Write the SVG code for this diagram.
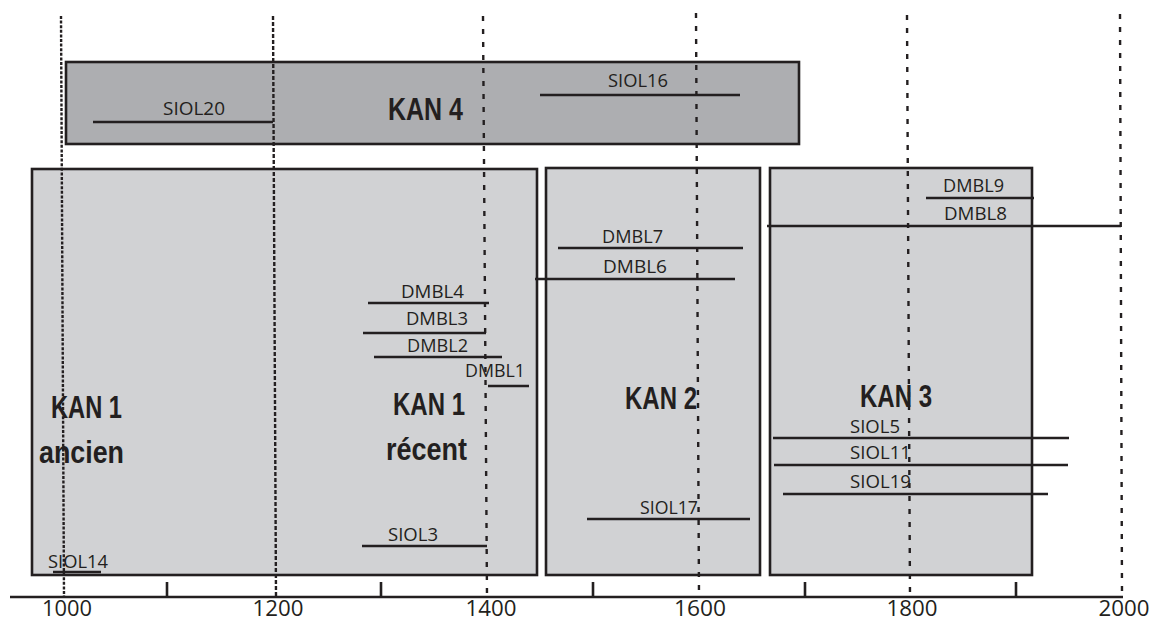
<svg xmlns="http://www.w3.org/2000/svg" width="1153" height="622" viewBox="0 0 1153 622">
<style>
.box{stroke:#231f20;stroke-width:2.6}
.k4{fill:#adaeb1}
.k{fill:#d1d2d4}
.seg{stroke:#231f20;stroke-width:2.6;fill:none}
.lbl{font-family:"Open Sans","Liberation Sans",sans-serif;font-size:18.5px;fill:#231f20}
.big{font-family:"Liberation Sans",Arial,sans-serif;font-weight:bold;font-size:32px;fill:#231f20}
.ax{font-family:"Open Sans","Liberation Sans",sans-serif;font-size:21px;fill:#231f20;text-anchor:middle}
.grid{stroke:#231f20;stroke-width:2.4;fill:none}
.fine{stroke-dasharray:3 1.6}
.med{stroke-dasharray:4 2}
.wide{stroke-dasharray:5 8}
</style>
<rect width="1153" height="622" fill="#ffffff"/>

<g id="KAN4">
<rect class="box k4" x="66" y="62" width="733" height="82"/>
<text class="big" x="388" y="120" textLength="75" lengthAdjust="spacingAndGlyphs">KAN 4</text>
</g>
<g id="KAN1">
<rect class="box k" x="32" y="169" width="505" height="406"/>
<text class="big" x="51" y="418" textLength="71" lengthAdjust="spacingAndGlyphs">KAN 1</text>
<text class="big" x="39" y="463" textLength="85" lengthAdjust="spacingAndGlyphs">ancien</text>
<text class="big" x="393" y="415" textLength="72" lengthAdjust="spacingAndGlyphs">KAN 1</text>
<text class="big" x="386" y="460" textLength="81" lengthAdjust="spacingAndGlyphs">récent</text>
</g>
<g id="KAN2">
<rect class="box k" x="546" y="168" width="214" height="407"/>
<text class="big" x="625" y="409" textLength="72" lengthAdjust="spacingAndGlyphs">KAN 2</text>
</g>
<g id="KAN3">
<rect class="box k" x="770" y="168" width="262" height="407"/>
<text class="big" x="860" y="407" textLength="72" lengthAdjust="spacingAndGlyphs">KAN 3</text>
</g>

<g id="samples">
<g id="SIOL20"><line class="seg" x1="93" y1="122" x2="273" y2="122"/><text class="lbl" x="163" y="115" textLength="62" lengthAdjust="spacingAndGlyphs">SIOL20</text></g>
<g id="SIOL16"><line class="seg" x1="540" y1="95" x2="740" y2="95"/><text class="lbl" x="608" y="87" textLength="60" lengthAdjust="spacingAndGlyphs">SIOL16</text></g>
<g id="DMBL9"><line class="seg" x1="926" y1="198" x2="1034" y2="198"/><text class="lbl" x="943" y="192" textLength="61" lengthAdjust="spacingAndGlyphs">DMBL9</text></g>
<g id="DMBL8"><line class="seg" x1="767" y1="226" x2="1121" y2="226"/><text class="lbl" x="944" y="220" textLength="63" lengthAdjust="spacingAndGlyphs">DMBL8</text></g>
<g id="DMBL7"><line class="seg" x1="558" y1="248" x2="743" y2="248"/><text class="lbl" x="602" y="243" textLength="61" lengthAdjust="spacingAndGlyphs">DMBL7</text></g>
<g id="DMBL6"><line class="seg" x1="535" y1="279" x2="735" y2="279"/><text class="lbl" x="603" y="273" textLength="64" lengthAdjust="spacingAndGlyphs">DMBL6</text></g>
<g id="DMBL4"><line class="seg" x1="368" y1="303" x2="489" y2="303"/><text class="lbl" x="401" y="298" textLength="63" lengthAdjust="spacingAndGlyphs">DMBL4</text></g>
<g id="DMBL3"><line class="seg" x1="363" y1="333" x2="486" y2="333"/><text class="lbl" x="406" y="325" textLength="62" lengthAdjust="spacingAndGlyphs">DMBL3</text></g>
<g id="DMBL2"><line class="seg" x1="374" y1="357" x2="502" y2="357"/><text class="lbl" x="407" y="352" textLength="61" lengthAdjust="spacingAndGlyphs">DMBL2</text></g>
<g id="DMBL1"><line class="seg" x1="488" y1="386" x2="529" y2="386"/><text class="lbl" x="465" y="377" textLength="60" lengthAdjust="spacingAndGlyphs">DMBL1</text></g>
<g id="SIOL5"><line class="seg" x1="773" y1="438" x2="1069" y2="438"/><text class="lbl" x="850" y="433" textLength="50" lengthAdjust="spacingAndGlyphs">SIOL5</text></g>
<g id="SIOL11"><line class="seg" x1="774" y1="465" x2="1068" y2="465"/><text class="lbl" x="850" y="459" textLength="61" lengthAdjust="spacingAndGlyphs">SIOL11</text></g>
<g id="SIOL19"><line class="seg" x1="783" y1="494" x2="1048" y2="494"/><text class="lbl" x="850" y="488" textLength="61" lengthAdjust="spacingAndGlyphs">SIOL19</text></g>
<g id="SIOL17"><line class="seg" x1="587" y1="519" x2="750" y2="519"/><text class="lbl" x="640" y="514" textLength="58" lengthAdjust="spacingAndGlyphs">SIOL17</text></g>
<g id="SIOL3"><line class="seg" x1="362" y1="546" x2="487" y2="546"/><text class="lbl" x="388" y="541" textLength="50" lengthAdjust="spacingAndGlyphs">SIOL3</text></g>
<g id="SIOL14"><line class="seg" x1="53" y1="572" x2="101" y2="572"/><text class="lbl" x="48" y="568" textLength="60" lengthAdjust="spacingAndGlyphs">SIOL14</text></g>
</g>

<g id="axis">
<line class="seg" x1="10" y1="597" x2="1123" y2="597"/>
<line class="seg" x1="167" y1="582" x2="167" y2="597"/>
<line class="seg" x1="381" y1="582" x2="381" y2="597"/>
<line class="seg" x1="593" y1="582" x2="593" y2="597"/>
<line class="seg" x1="805" y1="582" x2="805" y2="597"/>
<line class="seg" x1="1016" y1="582" x2="1016" y2="597"/>
<text class="ax" x="67" y="616" textLength="50" lengthAdjust="spacingAndGlyphs">1000</text>
<text class="ax" x="278" y="616" textLength="51" lengthAdjust="spacingAndGlyphs">1200</text>
<text class="ax" x="491" y="616" textLength="51" lengthAdjust="spacingAndGlyphs">1400</text>
<text class="ax" x="700" y="616" textLength="52" lengthAdjust="spacingAndGlyphs">1600</text>
<text class="ax" x="912" y="616" textLength="51" lengthAdjust="spacingAndGlyphs">1800</text>
<text class="ax" x="1124" y="616" textLength="51" lengthAdjust="spacingAndGlyphs">2000</text>
</g>

<g id="connectors">
<line class="grid fine" x1="61" y1="16" x2="64" y2="597"/>
<line class="grid med" x1="273" y1="16" x2="276" y2="597"/>
<line class="grid wide" x1="483" y1="16" x2="487" y2="597"/>
<line class="grid wide" x1="696" y1="13" x2="699" y2="597"/>
<line class="grid wide" x1="907" y1="15" x2="910" y2="597"/>
<line class="grid wide" x1="1120" y1="14" x2="1122" y2="597"/>
</g>
</svg>
